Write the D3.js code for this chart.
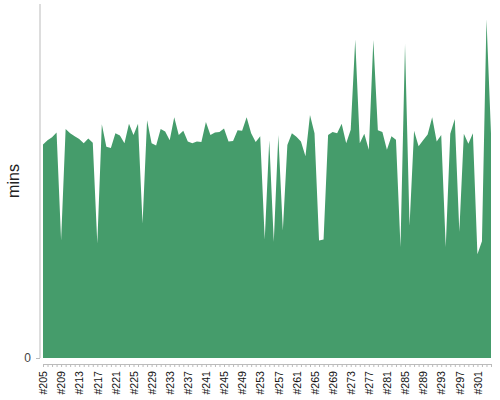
<!DOCTYPE html>
<html>
<head>
<meta charset="utf-8">
<script src="https://cdn.jsdelivr.net/npm/d3@7"></script>
<style>
  html, body { margin: 0; padding: 0; background: #fff; }
  svg { display: block; font-family: "Liberation Sans", Arial, sans-serif; }
</style>
</head>
<body>
<svg id="chart" width="500" height="400"></svg>
<script>
// Build numbers #205 .. #304
const builds = d3.range(205, 305).map(n => "#" + n);
// Duration in minutes per build
const minutes = [
  36.2, 36.9, 37.4, 38.2, 19.9, 38.8, 38.1, 37.6, 37.1, 36.4,
  37.2, 36.5, 19.4, 39.6, 35.8, 35.6, 38.1, 37.7, 36.4, 39.7,
  37.8, 39.7, 22.8, 40.3, 36.4, 36.0, 38.8, 38.4, 36.9, 40.8,
  37.8, 38.5, 36.7, 36.4, 36.7, 36.6, 40.0, 37.8, 38.2, 38.3,
  38.9, 36.7, 36.8, 38.6, 38.5, 40.8, 38.1, 36.6, 37.6, 20.1,
  36.9, 19.7, 37.8, 21.6, 36.1, 38.1, 37.5, 36.7, 34.2, 41.2,
  38.1, 19.9, 20.1, 37.8, 38.3, 38.1, 39.7, 36.4, 38.7, 54.0,
  36.4, 38.0, 35.3, 53.9, 38.6, 38.3, 35.3, 37.6, 37.0, 18.8,
  53.2, 22.4, 38.5, 35.9, 36.9, 37.9, 40.8, 36.7, 37.8, 18.8,
  38.0, 40.5, 21.4, 38.0, 36.3, 38.1, 17.6, 19.8, 57.4, 38.1
];
const yTicks = [0];
const labelEvery = 4;

const svg = d3.select("#chart");

const x = d3.scalePoint().domain(builds).range([43, 491]);
const y = d3.scaleLinear().domain([0, 60]).range([358, 4]);

const data = builds.map((b, i) => ({ b, v: minutes[i] }));

const area = d3.area()
  .x(d => x(d.b))
  .y0(y(0))
  .y1(d => y(d.v));

svg.append("path")
  .datum(data)
  .attr("fill", "#459c6b")
  .attr("d", area);

// Y axis
const yAxis = svg.append("g")
  .attr("transform", "translate(40,0)")
  .call(d3.axisLeft(y).tickValues(yTicks).tickSize(4).tickPadding(5));
yAxis.select(".domain").attr("stroke", "#bbb").attr("d", `M0,${y.range()[1]}V${y.range()[0]}`);
yAxis.selectAll(".tick line").attr("stroke", "#bbb");
yAxis.selectAll(".tick text").attr("fill", "#444").style("font-size", "12px");

// X axis
const xAxis = svg.append("g")
  .attr("transform", "translate(0,364)")
  .call(d3.axisBottom(x).tickSize(3).tickSizeOuter(0)
    .tickFormat((d, i) => i % labelEvery === 0 ? d : ""));
xAxis.select(".domain").attr("stroke", "#bbb");
xAxis.selectAll(".tick line").attr("stroke", "#bbb");
xAxis.selectAll(".tick text")
  .attr("fill", "#111")
  .style("font-size", "10.6px")
  .attr("transform", "rotate(-90)")
  .attr("text-anchor", "end")
  .attr("x", -7)
  .attr("y", 0)
  .attr("dy", "0.35em");

// Y label
svg.append("text")
  .attr("transform", "translate(19,181) rotate(-90)")
  .attr("text-anchor", "middle")
  .attr("fill", "#222")
  .style("font-size", "16px")
  .text("mins");
</script>
</body>
</html>
